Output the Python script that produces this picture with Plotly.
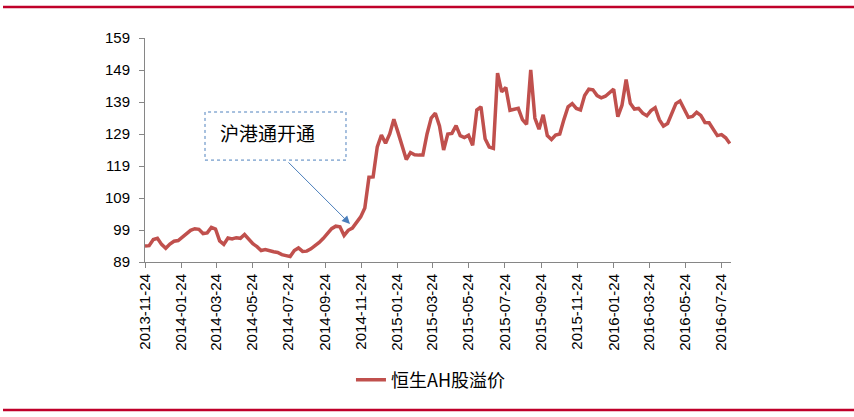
import pandas as pd
import plotly.graph_objects as go

# Weekly data, start date and values
start_date = "2013-11-24"
premium = [
    94.0, 94.1, 96.0, 96.4, 94.5, 93.3, 94.6, 95.5, 95.7, 96.8,
    98.1, 98.9, 99.4, 99.2, 97.9, 98.1, 99.8, 99.3, 95.6, 94.5,
    96.5, 96.2, 96.6, 96.4, 97.6, 96.1, 94.7, 93.8, 92.6, 92.9,
    92.5, 92.2, 92.0, 91.3, 91.0, 90.7, 92.6, 93.4, 92.3, 92.4,
    93.1, 94.0, 95.1, 96.4, 98.0, 99.4, 100.2, 100.0, 97.3, 98.9,
    99.6, 101.4, 103.1, 105.9, 115.5, 115.6, 125.0, 128.7, 126.1, 129.0,
    133.6, 129.5, 125.5, 121.0, 123.2, 122.5, 122.4, 122.4, 129.0, 134.0,
    135.5, 131.5, 124.0, 129.0, 129.2, 131.6, 128.5, 127.9, 128.6, 125.5,
    136.5, 137.5, 127.5, 124.9, 124.5, 148.0, 142.2, 143.5, 136.4, 136.6,
    137.0, 133.5, 132.0, 149.0, 134.0, 130.5, 135.0, 128.5, 127.3, 128.7,
    129.0, 133.5, 137.5, 138.5, 137.0, 136.5, 141.0, 143.0, 142.8, 141.0,
    140.3, 140.8, 141.8, 143.0, 134.4, 138.0, 146.0, 138.6, 136.8, 137.0,
    135.5, 134.7, 136.3, 137.2, 133.5, 131.5, 132.3, 135.5, 138.5, 139.3,
    137.0, 134.2, 134.5, 135.8, 134.8, 132.6, 132.5, 130.3, 128.5, 128.8,
    127.8, 126.0,
]
dates = pd.date_range(start_date, periods=len(premium), freq="7D")

tick_dates = pd.date_range("2013-11-01", periods=17, freq="2MS") + pd.Timedelta(days=23)
y_ticks = [89, 99, 109, 119, 129, 139, 149, 159]
series_name = "恒生AH股溢价"
event_label = "沪港通开通"
event_date = "2014-11-05"
event_value = 100.9

fig = go.Figure()
fig.add_trace(go.Scatter(
    x=dates, y=premium, mode="lines", name=series_name,
    line=dict(color="#C0504D", width=3.5),
))

axis_font = dict(family="Liberation Sans, Arial, sans-serif", size=15, color="#000000")
fig.update_xaxes(
    type="date", range=["2013-11-24", "2016-08-09"],
    tickvals=list(tick_dates), tickformat="%Y-%m-%d", tickangle=-90,
    showgrid=False, zeroline=False, showline=True, linecolor="#868686", linewidth=1,
    ticks="outside", ticklen=5, tickcolor="#868686", tickfont=axis_font,
)
fig.update_yaxes(
    range=[89, 159], tickvals=y_ticks,
    showgrid=False, zeroline=False, showline=True, linecolor="#868686", linewidth=1,
    ticks="outside", ticklen=5, tickcolor="#868686", tickfont=axis_font,
    ticklabelstandoff=6,
)

# Annotation box (dotted border) + text + arrow
fig.add_shape(type="rect", xref="paper", yref="paper",
              x0=0.1024, x1=0.343, y0=0.455, y1=0.6696,
              line=dict(color="#4F81BD", width=1, dash="dot"), fillcolor="rgba(0,0,0,0)")
fig.add_annotation(xref="paper", yref="paper", x=0.209, y=0.576, text=event_label,
                   xanchor="center", yanchor="middle",
                   showarrow=False, font=dict(family="Noto Sans CJK SC", size=19, color="#000000"))
fig.add_annotation(x=event_date, y=event_value, text="", showarrow=True,
                   axref="pixel", ayref="pixel", ax=-63, ay=-63,
                   arrowhead=2, arrowsize=1.6, arrowwidth=1, arrowcolor="#4A7EBB")

# Red rules top and bottom
for yy in (1.1384, -0.6607):
    fig.add_shape(type="line", xref="paper", yref="paper", x0=-0.2423, x1=1.2099, y0=yy, y1=yy,
                  line=dict(color="#C0002A", width=2.5))

fig.update_layout(
    width=854, height=417,
    margin=dict(l=145, r=123, t=38, b=155),
    paper_bgcolor="white", plot_bgcolor="white",
    showlegend=True,
    legend=dict(orientation="h", x=0.488, y=-0.527, xanchor="center", yanchor="middle",
                font=dict(family="Noto Sans CJK SC", size=18, color="#000000"),
                bgcolor="rgba(0,0,0,0)"),
)

fig.write_html("out.html")
